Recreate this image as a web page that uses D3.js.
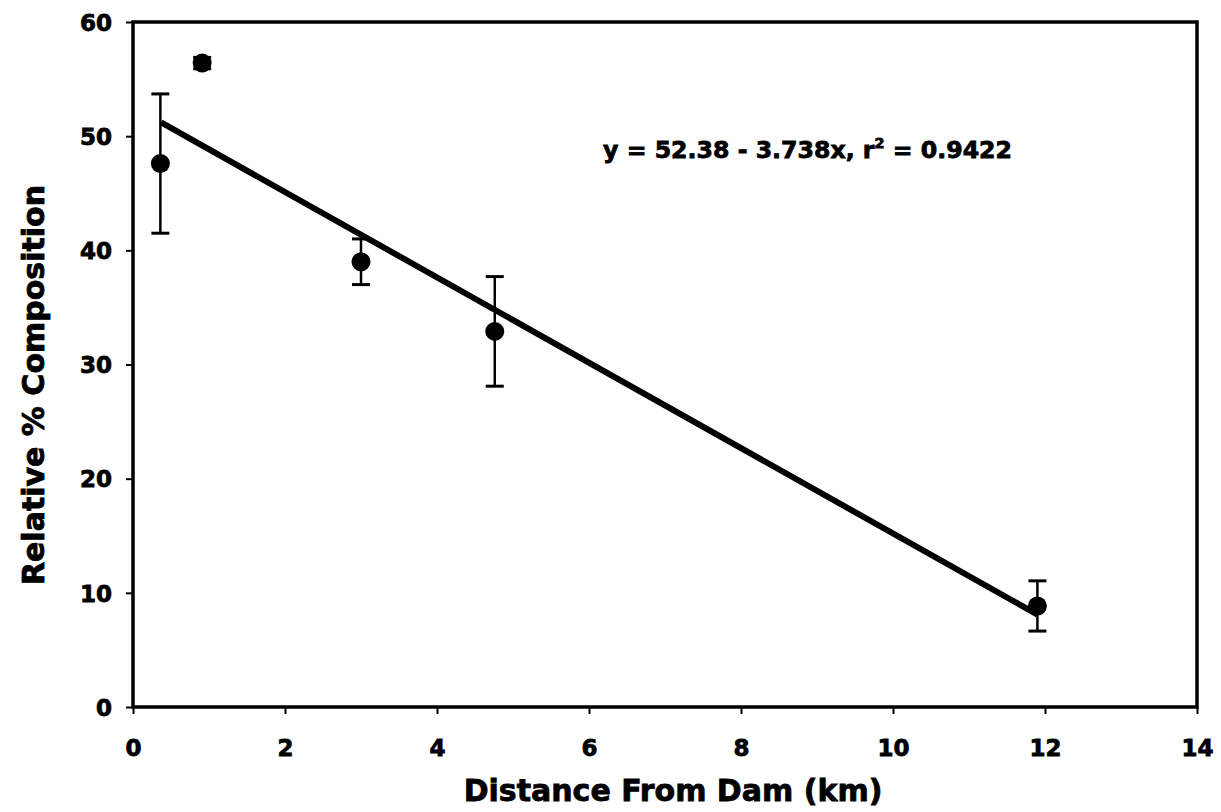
<!DOCTYPE html>
<html>
<head lang="en">
    <meta charset="UTF-8">
    <title></title>
    <script src="https://cdn.jsdelivr.net/npm/d3@7/dist/d3.min.js"></script>
    <style>
        body { margin: 0; background: #fff; }
        text { font-family: "DejaVu Sans", sans-serif; font-weight: bold; fill: #000; stroke: #000; stroke-width: 0.8px; }
    </style>
</head>
<body>
<div id="chart"></div>
<script>
    // distance from dam (km) and relative % composition
    var distance = [0.36, 0.91, 3.0, 4.76, 11.9];
    var composition = [47.6, 56.4, 39.0, 32.9, 8.85];
    var errors = [6.1, 0.5, 2.0, 4.8, 2.2];

    // end points of the fitted line
    var fitX = [0.37, 11.9];
    var fitY = [51.2, 8.1];

    var xTicks = [0, 2, 4, 6, 8, 10, 12, 14];
    var yTicks = [0, 10, 20, 30, 40, 50, 60];
    var equation = "y = 52.38 - 3.738x, r";
    var equationEnd = " = 0.9422";

    var width = 1221, height = 812;
    var plotLeft = 133, plotRight = 1197, plotTop = 22, plotBottom = 707;

    var svg = d3.select("#chart")
            .append("svg")
            .attr("width", width)
            .attr("height", height);

    var x = d3.scaleLinear().domain([0, 14]).range([plotLeft, plotRight]);
    var y = d3.scaleLinear().domain([0, 60]).range([plotBottom, plotTop]);

    // axes
    var xAxis = svg.append("g")
            .attr("transform", "translate(0," + plotBottom + ")")
            .call(d3.axisBottom(x).tickValues(xTicks).tickSize(7).tickPadding(26).tickSizeOuter(0));
    var yAxis = svg.append("g")
            .attr("transform", "translate(" + plotLeft + ",0)")
            .call(d3.axisLeft(y).tickValues(yTicks).tickSize(7).tickPadding(14).tickSizeOuter(0));

    [xAxis, yAxis].forEach(function(g){
        g.select(".domain").remove();
        g.selectAll(".tick line").attr("stroke", "#000").attr("stroke-width", 2);
        g.selectAll(".tick text").style("font-size", "23px").attr("fill", "#000");
    });
    yAxis.selectAll(".tick text").attr("dy", "0.36em");

    // frame
    svg.append("rect")
            .attr("x", plotLeft)
            .attr("y", plotTop)
            .attr("width", plotRight - plotLeft)
            .attr("height", plotBottom - plotTop)
            .attr("fill", "none")
            .attr("stroke", "#000")
            .attr("stroke-width", 3.5);

    // fitted line
    svg.append("line")
            .attr("x1", x(fitX[0]))
            .attr("y1", y(fitY[0]))
            .attr("x2", x(fitX[1]))
            .attr("y2", y(fitY[1]))
            .attr("stroke", "#000")
            .attr("stroke-width", 6);

    var pts = distance.map(function(d, i){
        return {x: d, y: composition[i], e: errors[i]};
    });

    // error bars
    var eb = svg.append("g").attr("stroke", "#000").attr("stroke-width", 2.5);
    pts.forEach(function(p){
        eb.append("line")
                .attr("x1", x(p.x)).attr("x2", x(p.x))
                .attr("y1", y(p.y + p.e)).attr("y2", y(p.y - p.e));
        [p.y + p.e, p.y - p.e].forEach(function(v){
            eb.append("line")
                    .attr("x1", x(p.x) - 9).attr("x2", x(p.x) + 9)
                    .attr("y1", y(v)).attr("y2", y(v))
                    .attr("stroke-width", 3);
        });
    });

    svg.append("g")
            .selectAll("circle")
            .data(pts)
            .enter()
            .append("circle")
            .attr("cx", function(d){ return x(d.x); })
            .attr("cy", function(d){ return y(d.y); })
            .attr("r", 9.5)
            .attr("fill", "#000");

    // equation
    var eq = svg.append("text")
            .attr("x", 603)
            .attr("y", 158)
            .style("font-size", "23px")
            .attr("textLength", 409)
            .attr("lengthAdjust", "spacingAndGlyphs");
    eq.append("tspan").text(equation);
    eq.append("tspan").attr("dy", -10).style("font-size", "14px").text("2");
    eq.append("tspan").attr("dy", 10).text(equationEnd);

    // axis titles
    svg.append("text")
            .attr("x", (plotLeft + plotRight) / 2 + 8)
            .attr("y", 801)
            .attr("text-anchor", "middle")
            .style("font-size", "30px")
            .text("Distance From Dam (km)");

    svg.append("text")
            .attr("transform", "translate(44,385) rotate(-90)")
            .attr("text-anchor", "middle")
            .style("font-size", "30px")
            .text("Relative % Composition");
</script>
</body>
</html>
